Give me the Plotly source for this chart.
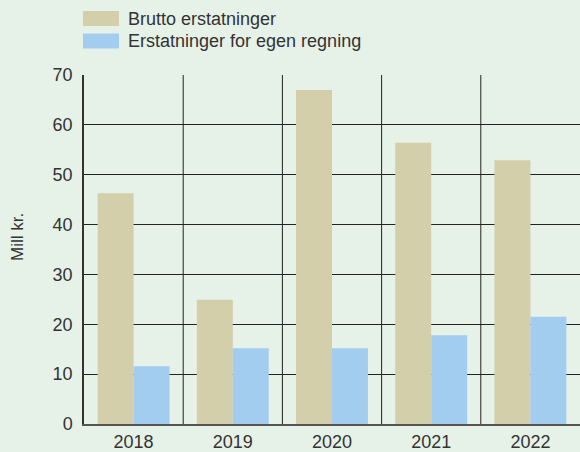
import plotly.graph_objects as go

years = ["2018", "2019", "2020", "2021", "2022"]
brutto = [46.3, 24.9, 67.0, 56.4, 52.9]
egen = [11.6, 15.2, 15.2, 17.8, 21.5]
series_names = ["Brutto erstatninger", "Erstatninger for egen regning"]
y_ticks = [0, 10, 20, 30, 40, 50, 60, 70]

W, H = 580, 452
L, R, T = 84, 0, 75
B = H - 424
PW, PH = W - L - R, H - T - B
BG = "#E6F1E8"
C1 = "#D2CFAA"
C2 = "#A3CDEE"
FONT = "Liberation Sans"
TXT = "#333333"
GRID = "#222222"

def px(x):
    return (x - L) / PW

def py(y):
    return 1 - (y - T) / PH

fig = go.Figure()
fig.add_trace(go.Bar(x=years, y=brutto, name=series_names[0], marker=dict(color=C1, line=dict(width=0)), showlegend=False))
fig.add_trace(go.Bar(x=years, y=egen, name=series_names[1], marker=dict(color=C2, line=dict(width=0)), showlegend=False))

shapes = []
annotations = []
# vertical separators between year groups
for k in range(len(years) - 1):
    shapes.append(dict(type="line", xref="x", yref="paper", x0=k + 0.5, x1=k + 0.5, y0=0, y1=1,
                       line=dict(color=GRID, width=1), layer="below"))
for i, (name, col) in enumerate(zip(series_names, [C1, C2])):
    y0 = 11 + i * 22.5
    shapes.append(dict(type="rect", xref="paper", yref="paper", x0=px(83), x1=px(119),
                       y0=py(y0 + 15), y1=py(y0), fillcolor=col, line=dict(width=0)))
    annotations.append(dict(xref="paper", yref="paper", x=px(126), y=py(y0 + 7.5), text=name,
                            showarrow=False, xanchor="left", yanchor="middle",
                            font=dict(family=FONT, size=18, color=TXT)))
annotations.append(dict(xref="paper", yref="paper", x=px(17), y=py(237), text="Mill kr.",
                        textangle=-90, showarrow=False, xanchor="center", yanchor="middle",
                        font=dict(family=FONT, size=17, color=TXT)))

fig.update_layout(
    width=W, height=H,
    margin=dict(l=L, r=R, t=T, b=B, autoexpand=False),
    paper_bgcolor=BG, plot_bgcolor=BG,
    barmode="group", bargap=0.275, bargroupgap=0,
    shapes=shapes, annotations=annotations,
    font=dict(family=FONT, size=18, color=TXT),
    xaxis=dict(type="category", showgrid=False,
               showline=True, linecolor="#555555", linewidth=2, ticks="", ticklen=0,
               tickfont=dict(family=FONT, size=18, color=TXT), range=[-0.5, 4.5], fixedrange=True,
               ticklabelstandoff=0),
    yaxis=dict(range=[0, 70], tickvals=y_ticks, showgrid=True, gridcolor=GRID, gridwidth=1,
               showline=True, linecolor="#333333", linewidth=1.5, ticks="", zeroline=False,
               tickfont=dict(family=FONT, size=18, color=TXT), ticklabelstandoff=6, fixedrange=True),
)

fig.write_html(
    "out.html",
    config={"displayModeBar": False},
    post_script="document.body.style.margin='0';document.body.style.background='%s';" % BG,
)
